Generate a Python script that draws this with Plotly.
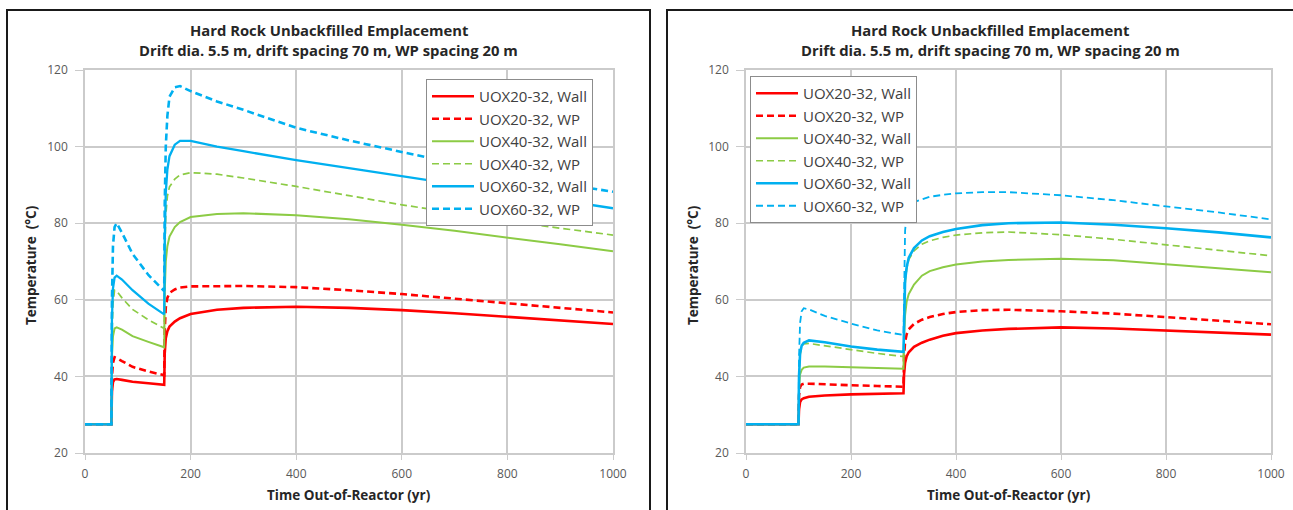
import plotly.graph_objects as go

W, H = 1293, 510

# ---------------- data ----------------
series_names = ["UOX20-32, Wall", "UOX20-32, WP", "UOX40-32, Wall",
                "UOX40-32, WP", "UOX60-32, Wall", "UOX60-32, WP"]

# Left chart: emplacement at 50 yr, ventilation ends 150 yr
t_left = [0, 50, 51, 53, 56, 60, 70, 90, 120, 150, 151, 153, 156, 160, 170, 180,
          200, 250, 300, 400, 500, 600, 700, 800, 900, 1000]
left_uox20_wall = [27.5, 27.5, 36.0, 38.5, 39.2, 39.3, 39.1, 38.6, 38.2, 37.8, 46.0, 50.0,
                   51.8, 53.0, 54.3, 55.2, 56.3, 57.4, 57.9, 58.2, 57.9, 57.3, 56.5, 55.6, 54.7, 53.7]
left_uox20_wp = [27.5, 27.5, 40.0, 43.5, 45.0, 44.8, 44.0, 42.5, 41.3, 40.3, 52.0, 58.0,
                 60.5, 61.8, 62.7, 63.2, 63.5, 63.6, 63.6, 63.3, 62.5, 61.5, 60.3, 59.1, 57.9, 56.7]
left_uox40_wall = [27.5, 27.5, 45.0, 50.5, 52.5, 52.8, 52.2, 50.5, 49.0, 47.6, 62.0, 70.0,
                   74.0, 76.5, 79.0, 80.3, 81.6, 82.4, 82.6, 82.1, 81.0, 79.6, 78.0, 76.3, 74.5, 72.7]
left_uox40_wp = [27.5, 27.5, 50.0, 59.0, 62.5, 62.3, 60.5, 57.5, 54.8, 52.5, 70.0, 82.0,
                 87.0, 89.5, 91.5, 92.6, 93.2, 92.8, 91.8, 89.6, 87.2, 84.8, 82.7, 80.6, 78.7, 76.9]
left_uox60_wall = [27.5, 27.5, 55.0, 63.0, 65.8, 66.3, 65.3, 62.5, 59.0, 56.2, 75.0, 88.0,
                   94.0, 97.5, 100.5, 101.5, 101.5, 100.0, 98.8, 96.5, 94.4, 92.3, 90.2, 88.1, 86.0, 83.9]
left_uox60_wp = [27.5, 27.5, 60.0, 74.0, 79.0, 80.0, 77.5, 72.0, 66.5, 62.3, 85.0, 100.0,
                 108.0, 113.0, 115.5, 115.8, 114.5, 111.8, 109.6, 104.9, 101.6, 98.6, 95.6, 92.9, 90.4, 88.2]

# Right chart: emplacement at 100 yr, ventilation ends 300 yr
t_right = [0, 100, 101, 103, 106, 110, 120, 150, 200, 250, 300, 301, 303, 306, 310, 320,
           335, 350, 375, 400, 450, 500, 600, 700, 800, 900, 1000]
right_uox20_wall = [27.5, 27.5, 31.5, 33.3, 34.0, 34.3, 34.7, 35.0, 35.3, 35.5, 35.6, 40.5, 43.5,
                    45.2, 46.3, 47.7, 48.8, 49.6, 50.6, 51.3, 52.0, 52.4, 52.8, 52.5, 52.0, 51.5, 50.9]
right_uox20_wp = [27.5, 27.5, 35.0, 37.2, 37.9, 38.1, 38.1, 37.9, 37.7, 37.5, 37.3, 45.0, 49.0,
                  51.0, 52.3, 53.7, 54.8, 55.5, 56.3, 56.8, 57.3, 57.4, 57.0, 56.4, 55.5, 54.6, 53.6]
right_uox40_wall = [27.5, 27.5, 37.0, 40.5, 41.7, 42.3, 42.6, 42.6, 42.4, 42.2, 42.0, 50.0, 56.0,
                    59.5, 61.5, 64.0, 66.3, 67.5, 68.5, 69.2, 70.0, 70.4, 70.7, 70.3, 69.3, 68.3, 67.2]
right_uox40_wp = [27.5, 27.5, 40.0, 45.5, 47.8, 48.5, 48.6, 48.0, 47.0, 46.0, 45.2, 57.0, 64.0,
                  68.0, 70.5, 72.8, 74.5, 75.4, 76.3, 76.9, 77.5, 77.7, 77.0, 75.8, 74.4, 73.0, 71.5]
right_uox60_wall = [27.5, 27.5, 40.0, 46.0, 48.0, 48.8, 49.4, 48.9, 47.8, 47.0, 46.4, 58.0, 65.0,
                    68.5, 71.0, 73.5, 75.5, 76.6, 77.7, 78.5, 79.5, 80.0, 80.2, 79.6, 78.7, 77.6, 76.3]
right_uox60_wp = [27.5, 27.5, 45.0, 54.0, 57.0, 57.8, 57.5, 55.8, 53.8, 52.0, 50.8, 68.0, 78.0,
                  82.5, 84.5, 85.5, 86.3, 86.9, 87.4, 87.8, 88.1, 88.1, 87.3, 86.0, 84.4, 82.8, 81.0]

x_ticks = [0, 200, 400, 600, 800, 1000]
y_ticks = [20, 40, 60, 80, 100, 120]

title_line1 = "Hard Rock Unbackfilled Emplacement"
title_line2 = "Drift dia. 5.5 m, drift spacing 70 m, WP spacing 20 m"
x_title = "Time Out-of-Reactor (yr)"
y_title = "Temperature  (°C)"

# ---------------- styles ----------------
RED, GREEN, BLUE = "#FF0000", "#8CCB45", "#00B0F0"
colors = [RED, RED, GREEN, GREEN, BLUE, BLUE]
DASH = "7px,4px"
dashes = ["solid", DASH, "solid", DASH, "solid", DASH]
widths_left = [2.6, 2.6, 2.0, 1.7, 2.3, 2.6]
widths_right = [2.6, 2.6, 2.0, 1.7, 2.6, 1.8]
FONT = "Open Sans"
TXT = "#262626"
TICK = "#595959"


def px_x(p):
    return p / W


def px_y(p):
    return 1 - p / H


left_data = [left_uox20_wall, left_uox20_wp, left_uox40_wall,
             left_uox40_wp, left_uox60_wall, left_uox60_wp]
right_data = [right_uox20_wall, right_uox20_wp, right_uox40_wall,
              right_uox40_wp, right_uox60_wall, right_uox60_wp]

fig = go.Figure()
for i, name in enumerate(series_names):
    fig.add_trace(go.Scatter(
        x=t_left, y=left_data[i], mode="lines", name=name,
        line=dict(color=colors[i], dash=dashes[i], width=widths_left[i]),
        xaxis="x", yaxis="y", legend="legend", legendgroup="L%d" % i))
for i, name in enumerate(series_names):
    fig.add_trace(go.Scatter(
        x=t_right, y=right_data[i], mode="lines", name=name,
        line=dict(color=colors[i], dash=dashes[i], width=widths_right[i]),
        xaxis="x2", yaxis="y2", legend="legend2", legendgroup="R%d" % i))

GRID = "#CBCBCB"
common = dict(showgrid=True, gridcolor=GRID, gridwidth=1.5, showline=True,
              linecolor=GRID, linewidth=1.5, ticks="outside", tickcolor=GRID,
              tickfont=dict(family=FONT, size=12, color=TICK),
              zeroline=False, mirror=True, automargin=False)
xcommon = dict(range=[0, 1000], tickvals=x_ticks, ticklen=5, ticklabelstandoff=4, **common)
ycommon = dict(range=[20, 120], tickvals=y_ticks, ticklen=8, ticklabelstandoff=5, **common)

legend_common = dict(xanchor="left", yanchor="top", bgcolor="white",
                     bordercolor="#8C8C8C", borderwidth=1,
                     font=dict(family=FONT, size=15, color="#404040"),
                     tracegroupgap=0, itemwidth=42)

fig.update_layout(
    width=W, height=H,
    margin=dict(l=0, r=0, t=0, b=0, autoexpand=False),
    paper_bgcolor="white", plot_bgcolor="white",
    showlegend=True,
    xaxis=dict(domain=[px_x(85), px_x(613)], anchor="y", **xcommon),
    yaxis=dict(domain=[px_y(453), px_y(70)], anchor="x", **ycommon),
    xaxis2=dict(domain=[px_x(746), px_x(1271)], anchor="y2", **xcommon),
    yaxis2=dict(domain=[px_y(453), px_y(70)], anchor="x2", **ycommon),
    legend=dict(x=px_x(426), y=px_y(79), **legend_common),
    legend2=dict(x=px_x(750), y=px_y(76), **legend_common),
)

annotations = []
for cx, plot_cx in [(328.5, 349), (990, 1008.5)]:
    annotations.append(dict(
        x=px_x(cx), y=px_y(30), xref="paper", yref="paper", showarrow=False,
        text="<b>%s</b>" % title_line1,
        font=dict(family=FONT, size=14.8, color=TXT),
        xanchor="center", yanchor="middle"))
    annotations.append(dict(
        x=px_x(cx), y=px_y(50), xref="paper", yref="paper", showarrow=False,
        text="<b>%s</b>" % title_line2,
        font=dict(family=FONT, size=14.8, color=TXT),
        xanchor="center", yanchor="middle"))
    annotations.append(dict(
        x=px_x(plot_cx), y=px_y(495), xref="paper", yref="paper", showarrow=False,
        text="<b>%s</b>" % x_title, font=dict(family=FONT, size=13.5, color=TXT),
        xanchor="center", yanchor="middle"))
for yx in [31, 693]:
    annotations.append(dict(
        x=px_x(yx), y=px_y(265), xref="paper", yref="paper", showarrow=False,
        text="<b>%s</b>" % y_title, textangle=-90,
        font=dict(family=FONT, size=13.5, color=TXT),
        xanchor="center", yanchor="middle"))
fig.update_layout(annotations=annotations)

shapes = [
    dict(type="rect", xref="paper", yref="paper", x0=px_x(7), x1=px_x(650),
         y0=-0.1, y1=px_y(10), line=dict(color="#1a1a1a", width=2)),
    dict(type="rect", xref="paper", yref="paper", x0=px_x(667), x1=1.1,
         y0=-0.1, y1=px_y(10), line=dict(color="#1a1a1a", width=2)),
]
fig.update_layout(shapes=shapes)

fig.write_html("out.html")
